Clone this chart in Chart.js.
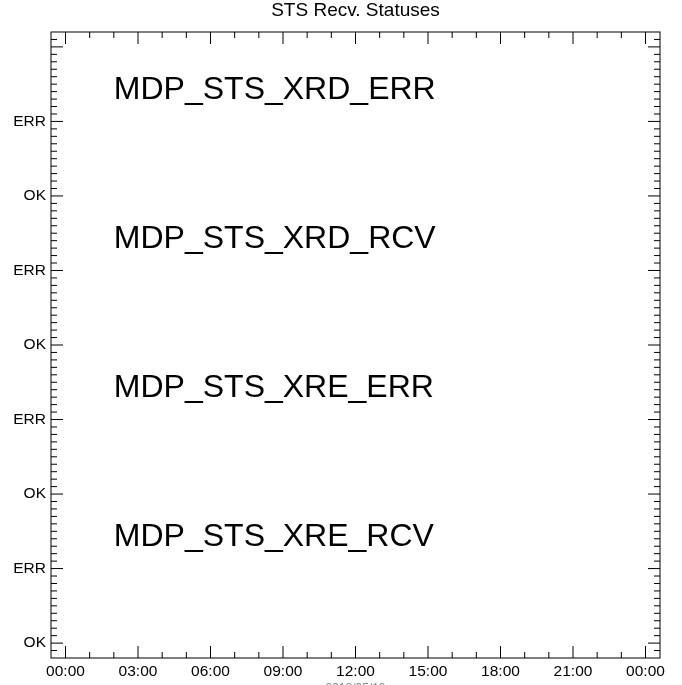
<!DOCTYPE html>
<html>
<head>
<meta charset="utf-8">
<script src="https://cdn.jsdelivr.net/npm/chart.js@4"></script>
<style>
  html, body { margin: 0; padding: 0; background: #fff; }
</style>
</head>
<body>
<canvas id="stsChart" width="682" height="685"></canvas>
<script>
// time axis (hours of the day)
const hourTicks = [0, 3, 6, 9, 12, 15, 18, 21, 24];
const hourLabels = ["00:00", "03:00", "06:00", "09:00", "12:00", "15:00", "18:00", "21:00", "00:00"];

// stacked status axis: each panel has OK (0) and ERR (1)
const statusTicks = [0, 1, 2, 3, 4, 5, 6, 7, 8];
const statusLabels = ["OK", "ERR", "OK", "ERR", "OK", "ERR", "OK", "ERR", ""];

// panels from bottom to top
const panelNames = ["MDP_STS_XRE_RCV", "MDP_STS_XRE_ERR", "MDP_STS_XRD_RCV", "MDP_STS_XRD_ERR"];
// no status samples were recorded on this day
const panelValues = [[], [], [], []];
const chartTitle = "STS Recv. Statuses";
const dayLabel = "2018/05/10";

Chart.defaults.font.family = "'Liberation Sans', Arial, Helvetica, sans-serif";
Chart.defaults.color = "#000";

// box, inward ticks, title and panel names
const frameTicks = {
  id: "frameTicks",
  afterDraw(chart) {
    const ctx = chart.ctx;
    const x = chart.scales.x;
    const y = chart.scales.y;
    const a = chart.chartArea;
    ctx.save();
    ctx.strokeStyle = "#000";
    ctx.lineWidth = 1;
    ctx.strokeRect(a.left, a.top, a.right - a.left, a.bottom - a.top);

    ctx.beginPath();
    for (let h = 0; h <= 24; h++) {
      const px = x.getPixelForValue(h);
      const len = h % 3 === 0 ? 12 : 6;
      ctx.moveTo(px, a.bottom); ctx.lineTo(px, a.bottom - len);
      ctx.moveTo(px, a.top); ctx.lineTo(px, a.top + len);
    }
    for (let k = -1; k <= 81; k++) {
      const py = y.getPixelForValue(k / 10);
      const len = k % 10 === 0 ? 12 : 6;
      ctx.moveTo(a.left, py); ctx.lineTo(a.left + len, py);
      ctx.moveTo(a.right, py); ctx.lineTo(a.right - len, py);
    }
    ctx.stroke();

    ctx.fillStyle = "#000";
    ctx.textAlign = "center";
    ctx.textBaseline = "middle";
    ctx.font = "19px 'Liberation Sans', Arial, sans-serif";
    ctx.fillText(chartTitle, (a.left + a.right) / 2, 10.5);

    ctx.font = "32px 'Liberation Sans', Arial, sans-serif";
    ctx.textAlign = "left";
    ctx.textBaseline = "alphabetic";
    panelNames.forEach(function (name, i) {
      ctx.fillText(name, x.getPixelForValue(2), y.getPixelForValue(2 * i + 1.3));
    });

    // date label, mostly below the visible area
    ctx.fillStyle = "#888";
    ctx.font = "12px 'Liberation Sans', Arial, sans-serif";
    ctx.textAlign = "center";
    ctx.textBaseline = "top";
    ctx.fillText(dayLabel, (a.left + a.right) / 2, a.bottom + 25);
    ctx.restore();
  }
};

new Chart("stsChart", {
  type: "scatter",
  data: {
    datasets: panelNames.map(function (name, i) {
      return {
        label: name,
        data: panelValues[i],
        showLine: true,
        borderColor: "#000",
        pointRadius: 0
      };
    })
  },
  options: {
    responsive: false,
    animation: false,
    layout: { padding: { left: 0, right: 22, top: 32, bottom: 0 } },
    plugins: {
      legend: { display: false },
      tooltip: { enabled: false },
      title: { display: false }
    },
    scales: {
      x: {
        type: "linear",
        min: -0.6,
        max: 24.6,
        grid: { display: false, drawTicks: false, tickLength: 0 },
        border: { display: false },
        afterBuildTicks: function (s) {
          s.ticks = hourTicks.map(function (v) { return { value: v }; });
        },
        afterFit: function (s) { s.height = 27; },
        ticks: {
          autoSkip: false,
          maxRotation: 0,
          padding: 4,
          font: { size: 15.5 },
          callback: function (v) { return hourLabels[hourTicks.indexOf(v)]; }
        }
      },
      y: {
        type: "linear",
        min: -0.2,
        max: 8.2,
        grid: { display: false, drawTicks: false, tickLength: 0 },
        border: { display: false },
        afterBuildTicks: function (s) {
          s.ticks = statusTicks.map(function (v) { return { value: v }; });
        },
        afterFit: function (s) { s.width = 51; },
        ticks: {
          autoSkip: false,
          padding: 5,
          font: { size: 15.5 },
          callback: function (v) { return statusLabels[statusTicks.indexOf(v)]; }
        }
      }
    }
  },
  plugins: [frameTicks]
});
</script>
</body>
</html>
